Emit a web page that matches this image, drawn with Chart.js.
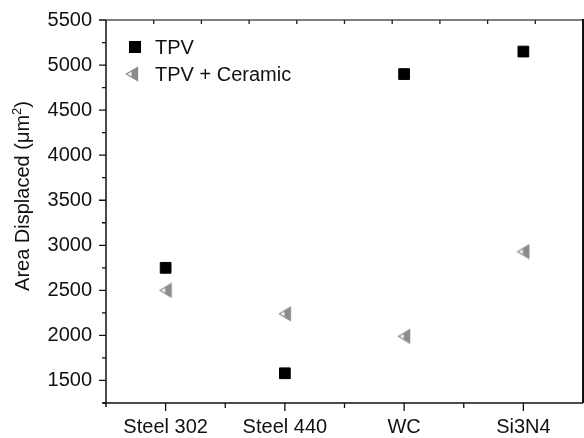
<!DOCTYPE html>
<html>
<head>
<meta charset="utf-8">
<script src="https://cdn.jsdelivr.net/npm/chart.js@4.4.1/dist/chart.umd.min.js"></script>
<style>
  html, body { margin: 0; padding: 0; background: #fff; }
  #wrap { width: 584px; height: 438px; }
</style>
</head>
<body>
<div id="wrap"><canvas id="chart" width="584" height="438"></canvas></div>
<script>
// counterface materials and displaced area (um^2)
const categories = ['Steel 302', 'Steel 440', 'WC', 'Si3N4'];
const tpvArea = [2750, 1580, 4900, 5150];
const tpvCeramicArea = [2500, 2240, 1990, 2930];
const seriesNames = ['TPV', 'TPV + Ceramic'];

const FONT = '"Liberation Sans", Arial, Helvetica, sans-serif';

// half-shaded left-pointing triangle marker
function makeTriangle() {
    const c = document.createElement('canvas');
    c.width = 14; c.height = 16;
    const g = c.getContext('2d');
    g.beginPath();
    g.moveTo(1.5, 8);
    g.lineTo(12.5, 1.5);
    g.lineTo(12.5, 14.5);
    g.closePath();
    g.fillStyle = '#fff';
    g.fill();
    g.save();
    g.clip();
    g.fillStyle = '#8c8c8c';
    g.fillRect(6.5, 0, 8, 16);
    g.restore();
    g.strokeStyle = '#8c8c8c';
    g.lineWidth = 1.3;
    g.stroke();
    return c;
}
const triangle = makeTriangle();

// axes box, tick marks, legend and y title
const frame = {
    id: 'frame',
    afterDraw(chart) {
        const ctx = chart.ctx;
        const a = chart.chartArea;
        const xs = chart.scales.x;
        const ys = chart.scales.y;
        ctx.save();
        ctx.lineCap = 'butt';

        // top and right edges
        ctx.strokeStyle = '#555';
        ctx.lineWidth = 1.5;
        ctx.beginPath();
        ctx.moveTo(a.left, a.top);
        ctx.lineTo(a.right, a.top);
        ctx.stroke();
        ctx.strokeStyle = '#111';
        ctx.lineWidth = 2;
        ctx.beginPath();
        ctx.moveTo(a.right, a.top - 1);
        ctx.lineTo(a.right, a.bottom);
        ctx.stroke();

        // left and bottom axes
        ctx.strokeStyle = '#111';
        ctx.lineWidth = 1.5;
        ctx.beginPath();
        ctx.moveTo(a.left, a.top);
        ctx.lineTo(a.left, a.bottom + 4);
        ctx.moveTo(a.left - 3, a.bottom);
        ctx.lineTo(a.right, a.bottom);
        ctx.stroke();

        // y ticks: long on labelled values, short between
        ctx.lineWidth = 1.3;
        ctx.beginPath();
        ys.ticks.forEach(t => {
            const y = ys.getPixelForValue(t.value);
            const len = t.value % 500 === 0 ? 7 : 4;
            ctx.moveTo(a.left - len, y);
            ctx.lineTo(a.left, y);
        });
        // x ticks: long at categories, short at boundaries
        categories.forEach((c, i) => {
            const x = xs.getPixelForValue(i);
            ctx.moveTo(x, a.bottom);
            ctx.lineTo(x, a.bottom + 8);
            if (i > 0) {
                const xm = (xs.getPixelForValue(i - 1) + x) / 2;
                ctx.moveTo(xm, a.bottom);
                ctx.lineTo(xm, a.bottom + 5);
            }
        });
        ctx.stroke();

        // small inward ticks on the top edge
        ctx.strokeStyle = '#222';
        ctx.beginPath();
        for (let k = 1; k < 10; k++) {
            const x = a.left + (a.right - a.left) * k / 10;
            ctx.moveTo(x, a.top);
            ctx.lineTo(x, a.top + 4);
        }
        ctx.stroke();

        // legend
        ctx.font = '20px ' + FONT;
        ctx.textBaseline = 'middle';
        ctx.textAlign = 'left';
        const rows = [47, 74];
        chart.data.datasets.forEach((ds, i) => {
            const mx = i === 0 ? 135 : 132;
            ctx.fillStyle = ds.backgroundColor;
            ctx.strokeStyle = ds.borderColor;
            Chart.helpers.drawPoint(ctx, {
                pointStyle: ds.pointStyle,
                radius: ds.pointRadius,
                borderWidth: ds.pointBorderWidth
            }, mx, rows[i]);
            ctx.fillStyle = '#111';
            ctx.fillText(ds.label, 155, rows[i] + 1);
        });

        // y axis title with superscript
        ctx.save();
        ctx.translate(23, 196);
        ctx.rotate(-Math.PI / 2);
        ctx.fillStyle = '#111';
        ctx.textBaseline = 'middle';
        const main = 'Area Displaced (\u03bcm';
        const sup = '2';
        const close = ')';
        ctx.font = '20px ' + FONT;
        const wMain = ctx.measureText(main).width;
        const wClose = ctx.measureText(close).width;
        ctx.font = '13px ' + FONT;
        const wSup = ctx.measureText(sup).width;
        const x0 = -(wMain + wSup + wClose) / 2;
        ctx.font = '20px ' + FONT;
        ctx.fillText(main, x0, 0);
        ctx.font = '13px ' + FONT;
        ctx.fillText(sup, x0 + wMain, -6);
        ctx.font = '20px ' + FONT;
        ctx.fillText(close, x0 + wMain + wSup, 0);
        ctx.restore();

        ctx.restore();
    }
};

new Chart(document.getElementById('chart'), {
    type: 'line',
    data: {
        labels: categories,
        datasets: [{
            label: seriesNames[0],
            data: tpvArea,
            showLine: false,
            pointStyle: 'rect',
            pointRadius: 7.6,
            pointHoverRadius: 7.6,
            pointBorderWidth: 1,
            backgroundColor: '#000',
            borderColor: '#000'
        }, {
            label: seriesNames[1],
            data: tpvCeramicArea,
            showLine: false,
            pointStyle: triangle,
            pointRadius: 7,
            pointHoverRadius: 7,
            pointBorderWidth: 0,
            backgroundColor: '#8c8c8c',
            borderColor: '#8c8c8c'
        }]
    },
    options: {
        responsive: false,
        animation: false,
        layout: {
            autoPadding: false,
            padding: { top: 20, right: 1, left: 0, bottom: 0 }
        },
        plugins: {
            legend: { display: false },
            tooltip: { enabled: false }
        },
        scales: {
            x: {
                type: 'category',
                offset: true,
                grid: { display: false, drawTicks: false },
                border: { display: false },
                ticks: {
                    padding: 12,
                    color: '#111',
                    font: { family: FONT, size: 20 },
                    maxRotation: 0
                },
                afterFit(scale) {
                    scale.height = 35;
                    scale.paddingLeft = 0;
                    scale.paddingRight = 0;
                }
            },
            y: {
                min: 1250,
                max: 5500,
                grid: { display: false, drawTicks: false },
                border: { display: false },
                ticks: {
                    stepSize: 250,
                    padding: 14,
                    color: '#111',
                    font: { family: FONT, size: 20 },
                    autoSkip: false,
                    callback: v => (v % 500 === 0 ? String(v) : '')
                },
                afterFit(scale) {
                    scale.width = 106;
                    scale.paddingTop = 0;
                    scale.paddingBottom = 0;
                }
            }
        }
    },
    plugins: [frame]
});
</script>
</body>
</html>
